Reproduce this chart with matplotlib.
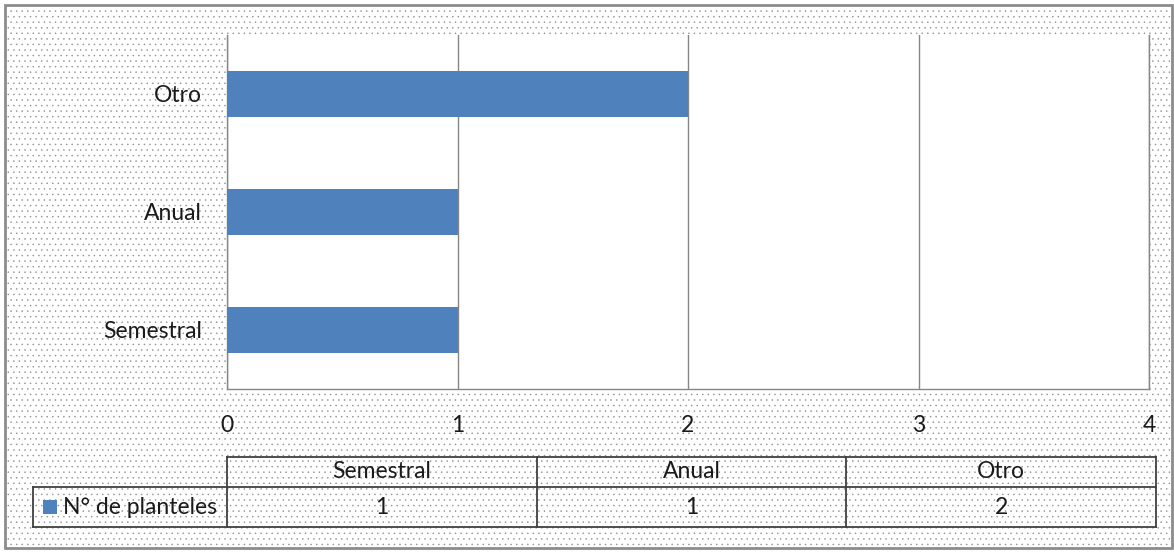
import matplotlib
matplotlib.use("Agg")
import matplotlib.pyplot as plt
from matplotlib.patches import Rectangle
from matplotlib.lines import Line2D

categories = ["Semestral", "Anual", "Otro"]
values = [1, 1, 2]
series_name = "N° de planteles"
x_ticks = [0, 1, 2, 3, 4]

W, H = 1174, 552
FS = 16.5
plt.rcParams['font.family'] = ['Lato', 'DejaVu Sans']
plt.rcParams['hatch.color'] = '#e0e0e0'
plt.rcParams['hatch.linewidth'] = 0.3

fig = plt.figure(figsize=(W / 100, H / 100), dpi=100)
fig.patch.set_facecolor('white')

def fx(x):
    return x / W

def fy(y):
    return 1 - y / H

# outer dotted chart area with border
bg = Rectangle((fx(5), fy(548)), fx(1172) - fx(5), fy(5) - fy(548),
               transform=fig.transFigure, facecolor='white', edgecolor='#8c8c8c',
               linewidth=2, hatch='...', zorder=-10)
fig.add_artist(bg)

ax = fig.add_axes([fx(227), fy(389), fx(1149) - fx(227), fy(35) - fy(389)])
ax.set_facecolor('white')
bar_color = '#4F81BD'
ax.barh(range(len(categories)), values, height=0.39, color=bar_color, zorder=3)
ax.set_xlim(0, 4)
ax.set_ylim(-0.5, len(categories) - 0.5)
ax.set_xticks(x_ticks)
ax.set_xticklabels([str(t) for t in x_ticks])
ax.set_yticks(range(len(categories)))
ax.set_yticklabels(categories)
ax.tick_params(axis='x', length=0, pad=19, labelsize=FS, colors='#1a1a1a')
ax.tick_params(axis='y', length=0, pad=18, labelsize=FS, colors='#1a1a1a')
ax.xaxis.grid(True, color='#868686', linewidth=1, zorder=1)
ax.set_axisbelow(True)
for s in ['left', 'bottom', 'right']:
    ax.spines[s].set_color('#868686')
    ax.spines[s].set_linewidth(1)
ax.spines['top'].set_visible(False)

# data table below the chart
lc = '#404040'
lw = 1.3
col_edges = [227, 537, 846, 1156]
y_top, y_mid, y_bot = 457, 487, 527
leg_left = 33

def hline(x0, x1, y):
    fig.add_artist(Line2D([fx(x0), fx(x1)], [fy(y), fy(y)], transform=fig.transFigure,
                          color=lc, linewidth=lw))

def vline(x, y0, y1):
    fig.add_artist(Line2D([fx(x), fx(x)], [fy(y0), fy(y1)], transform=fig.transFigure,
                          color=lc, linewidth=lw))

hline(col_edges[0], col_edges[-1], y_top)
hline(leg_left, col_edges[-1], y_mid)
hline(leg_left, col_edges[-1], y_bot)
vline(leg_left, y_mid, y_bot)
for xe in col_edges:
    vline(xe, y_top, y_bot)

for i, (cat, val) in enumerate(zip(categories, values)):
    cx = (col_edges[i] + col_edges[i + 1]) / 2
    fig.text(fx(cx), fy((y_top + y_mid) / 2), cat, ha='center', va='center',
             fontsize=FS, color='#1a1a1a')
    fig.text(fx(cx), fy((y_mid + y_bot) / 2), str(val), ha='center', va='center',
             fontsize=FS, color='#1a1a1a')

# legend key + series name
fig.add_artist(Rectangle((fx(43), fy(514)), fx(57) - fx(43), fy(500) - fy(514),
                         transform=fig.transFigure, facecolor=bar_color, edgecolor='none'))
fig.text(fx(63), fy((y_mid + y_bot) / 2), series_name, ha='left', va='center',
         fontsize=FS, color='#1a1a1a')

fig.savefig('out.png', dpi=100)
